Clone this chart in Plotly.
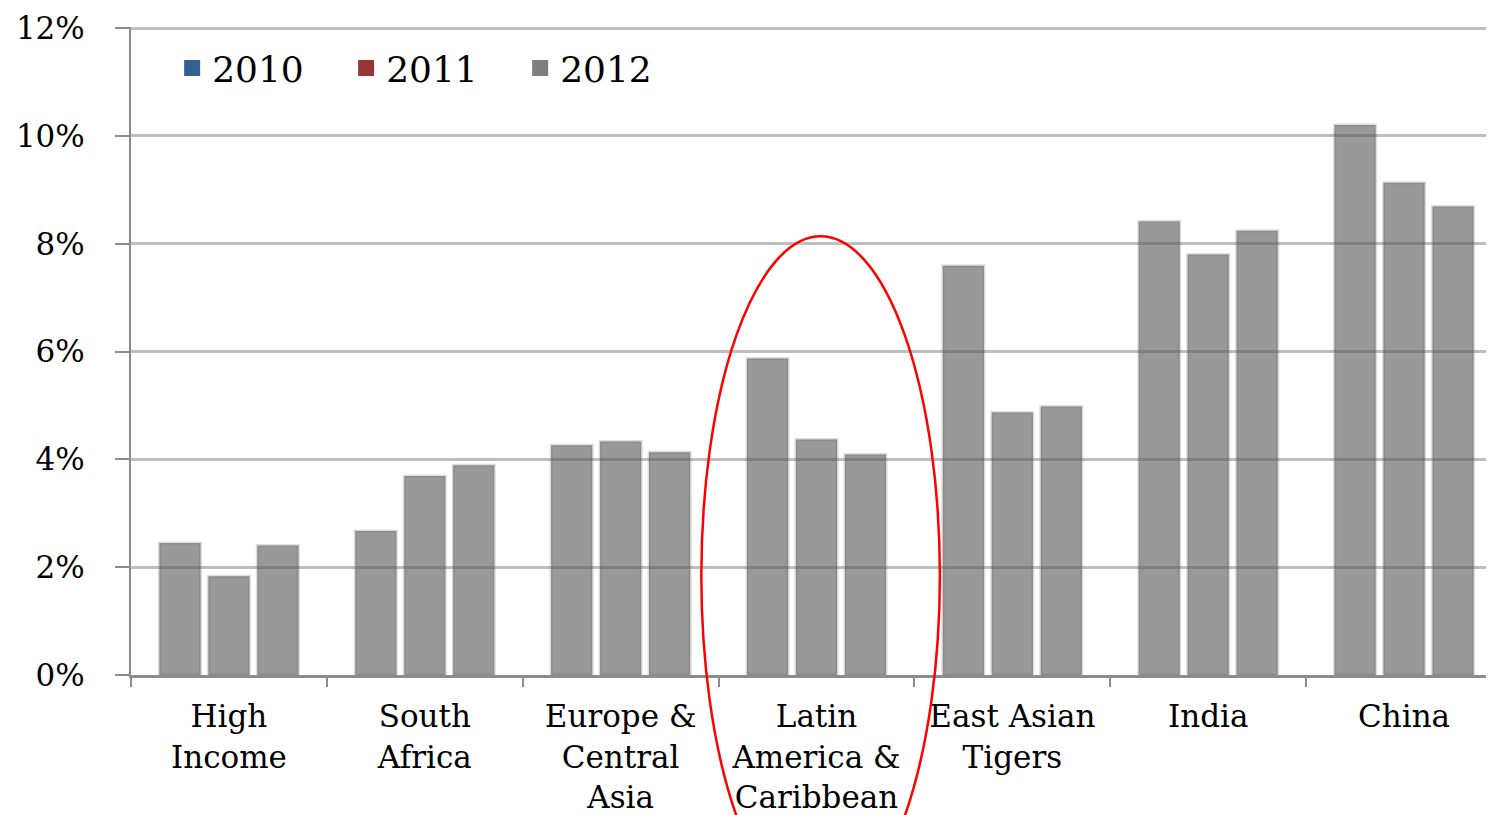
"""Growth by region, 2010-2012, grouped bar chart."""
import plotly.graph_objects as go

regions = ["High<br>Income", "South<br>Africa", "Europe &<br>Central<br>Asia",
           "Latin<br>America &<br>Caribbean", "East Asian<br>Tigers", "India", "China"]
years = ["2010", "2011", "2012"]
# growth, in percent
growth_2010 = [2.45, 2.67, 4.26, 5.87, 7.59, 8.41, 10.2]
growth_2011 = [1.83, 3.69, 4.33, 4.37, 4.87, 7.80, 9.13]
growth_2012 = [2.40, 3.89, 4.13, 4.09, 4.98, 8.24, 8.69]
legend_colors = ["#376092", "#953735", "#7f7f7f"]

font_name = "DejaVu Serif"
bar_fill = "rgba(85,85,85,0.6)"
bar_edge = "rgba(85,85,85,0.2)"

fig = go.Figure()
for yr, vals in zip(years, [growth_2010, growth_2011, growth_2012]):
    fig.add_trace(go.Bar(
        x=regions, y=vals, name=yr, showlegend=False,
        marker=dict(color=bar_fill, line=dict(color=bar_edge, width=3)),
    ))

# legend entries keep the original series colours, the bars themselves are gray
for yr, col in zip(years, legend_colors):
    fig.add_trace(go.Scatter(
        x=[None], y=[None], mode="markers", name=yr,
        marker=dict(symbol="square", color=col, size=16),
    ))

# page body has an 8px margin, so offsets are taken off the plot margins
fig.update_layout(
    width=1494, height=815,
    margin=dict(l=123, r=0, t=19, b=148),
    plot_bgcolor="white", paper_bgcolor="white",
    barmode="group", bargap=0.25, bargroupgap=0.16,
    font=dict(family=font_name, size=32, color="black"),
    legend=dict(orientation="h", x=0.03, y=0.983, xanchor="left", yanchor="top",
                font=dict(size=36), bgcolor="rgba(0,0,0,0)", itemsizing="trace",
                traceorder="normal", itemwidth=30,
                entrywidth=129, entrywidthmode="pixels"),
    showlegend=True,
)
fig.update_yaxes(
    range=[0, 12.02], dtick=2, ticksuffix="%",
    showgrid=True, gridcolor="#bfbfbf", gridwidth=3,
    showline=True, linecolor="#8c8c8c", linewidth=2,
    ticks="outside", ticklen=14, tickcolor="#8c8c8c", tickwidth=2,
    zeroline=False, tickfont=dict(size=31), automargin=False, ticklabelstandoff=24,
    ticklabeloverflow="allow",
)
fig.update_xaxes(
    showline=True, linecolor="#8c8c8c", linewidth=3,
    ticks="outside", tickson="boundaries", ticklen=9, tickcolor="#8c8c8c", tickwidth=2,
    tickfont=dict(size=31), tickangle=0, automargin=False, ticklabelstandoff=12,
)

# red ellipse around Latin America & Caribbean
fig.add_shape(type="circle", xref="paper", yref="paper",
              x0=0.416, x1=0.590, y0=-0.37, y1=0.677,
              line=dict(color="red", width=2.5))

fig.write_html("out.html")
